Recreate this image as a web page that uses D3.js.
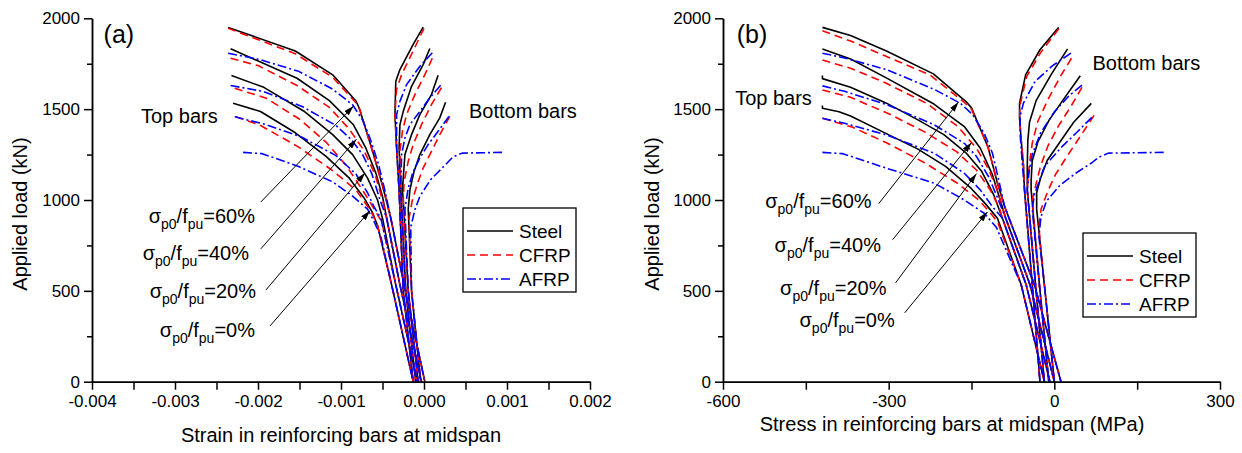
<!DOCTYPE html>
<html><head><meta charset="utf-8">
<script src="https://cdn.jsdelivr.net/npm/d3@7"></script>
<style>
html,body{margin:0;padding:0;background:#fff;}
text{font-family:"Liberation Sans",Arial,sans-serif;fill:#000;}
</style></head>
<body>
<svg id="chart" width="1242" height="453"></svg>
<script>
// ---------------- data ----------------
const levels = ["0%", "20%", "40%", "60%"];
const materials = ["Steel", "CFRP", "AFRP"];
const yTicks = [0, 500, 1000, 1500, 2000];
const yMinor = [250, 750, 1250, 1750];
const xTicksA = [-0.004, -0.003, -0.002, -0.001, 0, 0.001, 0.002];
const xTickLabelsA = ["-0.004", "-0.003", "-0.002", "-0.001", "0.000", "0.001", "0.002"];
const xMinorA = [-0.0035, -0.0025, -0.0015, -0.0005, 0.0005, 0.0015];
const xTicksB = [-600, -300, 0, 300];
const xTickLabelsB = ["-600", "-300", "0", "300"];
const xMinorB = [-450, -150, 150];

// Panel (a): [strain, load kN]; each array lists 0%, 20%, 40%, 60%
const aTopSteel = [
 [[-0.00230,1533],[-0.00197,1487],[-0.00155,1370],[-0.00118,1240],[-0.00090,1120],[-0.00072,1010],[-0.00062,930],[-0.00056,860],[-0.00039,533],[-0.00013,0]],
 [[-0.00232,1685],[-0.00193,1620],[-0.00145,1490],[-0.00110,1360],[-0.00086,1250],[-0.00068,1120],[-0.00056,1000],[-0.00050,900],[-0.00034,533],[-0.00008,0]],
 [[-0.00233,1832],[-0.00153,1670],[-0.00114,1547],[-0.00085,1414],[-0.00070,1285],[-0.00058,1148],[-0.00050,1020],[-0.00045,900],[-0.00029,533],[-0.00003,0]],
 [[-0.00236,1950],[-0.00155,1820],[-0.00110,1689],[-0.00082,1545],[-0.00078,1505],[-0.00062,1270],[-0.00050,1080],[-0.00040,900],[-0.00024,533],[0.00001,0]]
];
const aTopCFRP = [
 [[-0.00227,1458],[-0.00198,1413],[-0.00152,1294],[-0.00111,1165],[-0.00082,1055],[-0.00064,940],[-0.00056,860],[-0.00039,533],[-0.00013,0]],
 [[-0.00228,1615],[-0.00190,1560],[-0.00149,1442],[-0.00117,1314],[-0.00093,1185],[-0.00073,1047],[-0.00060,950],[-0.00051,880],[-0.00034,533],[-0.00008,0]],
 [[-0.00233,1780],[-0.00200,1740],[-0.00153,1630],[-0.00114,1510],[-0.00090,1390],[-0.00072,1270],[-0.00059,1140],[-0.00050,1000],[-0.00045,900],[-0.00029,533],[-0.00003,0]],
 [[-0.00236,1945],[-0.00155,1805],[-0.00110,1675],[-0.00082,1535],[-0.00077,1495],[-0.00062,1265],[-0.00050,1080],[-0.00040,900],[-0.00024,533],[0.00001,0]]
];
const aTopAFRP = [
 [[-0.00218,1262],[-0.00195,1255],[-0.00151,1184],[-0.00110,1100],[-0.00087,1025],[-0.00068,950],[-0.00060,880],[-0.00052,800],[-0.00039,533],[-0.00013,0]],
 [[-0.00228,1458],[-0.00191,1416],[-0.00147,1345],[-0.00106,1244],[-0.00082,1143],[-0.00068,1040],[-0.00060,960],[-0.00052,900],[-0.00034,533],[-0.00008,0]],
 [[-0.00233,1630],[-0.00194,1598],[-0.00147,1515],[-0.00106,1410],[-0.00087,1330],[-0.00074,1250],[-0.00063,1147],[-0.00053,1000],[-0.00045,900],[-0.00029,533],[-0.00003,0]],
 [[-0.00236,1808],[-0.00198,1773],[-0.00151,1708],[-0.00110,1610],[-0.00086,1524],[-0.00074,1440],[-0.00065,1340],[-0.00055,1200],[-0.00047,1050],[-0.00040,900],[-0.00024,533],[0.00001,0]]
];
const aBotSteel = [
 [[0.00026,1538],[0.00019,1452],[0.00007,1360],[-0.00005,1250],[-0.00012,1157],[-0.00017,1056],[-0.00019,950],[-0.00015,500],[-0.00004,0]],
 [[0.00017,1686],[0.00009,1580],[-0.00005,1470],[-0.00015,1360],[-0.00023,1250],[-0.00026,1056],[-0.00025,1000],[-0.00019,500],[-0.00007,0]],
 [[0.00007,1834],[-0.00001,1745],[-0.00015,1626],[-0.00025,1488],[-0.00029,1415],[-0.00030,1286],[-0.00028,1056],[-0.00022,500],[-0.00010,0]],
 [[-0.00001,1951],[-0.00013,1856],[-0.00029,1718],[-0.00034,1653],[-0.00035,1470],[-0.00033,1286],[-0.00030,1056],[-0.00025,500],[-0.00013,0]]
];
const aBotCFRP = [
 [[0.00031,1460],[0.00019,1360],[0.00009,1268],[-0.00001,1176],[-0.00007,1102],[-0.00014,1000],[-0.00018,900],[-0.00015,500],[-0.00004,0]],
 [[0.00021,1618],[0.00009,1525],[-0.00003,1415],[-0.00013,1305],[-0.00019,1213],[-0.00024,1100],[-0.00025,1000],[-0.00019,500],[-0.00007,0]],
 [[0.00010,1780],[0.00001,1690],[-0.00011,1580],[-0.00021,1470],[-0.00026,1378],[-0.00029,1270],[-0.00028,1056],[-0.00022,500],[-0.00010,0]],
 [[0.00000,1945],[-0.00011,1840],[-0.00027,1690],[-0.00033,1610],[-0.00035,1470],[-0.00033,1286],[-0.00030,1056],[-0.00025,500],[-0.00013,0]]
];
const aBotAFRP = [
 [[0.00094,1262],[0.00046,1258],[0.00035,1238],[0.00025,1190],[0.00008,1112],[-0.00005,1020],[-0.00011,946],[-0.00016,850],[-0.00015,500],[-0.00004,0]],
 [[0.00030,1460],[0.00017,1378],[0.00005,1305],[-0.00005,1231],[-0.00013,1157],[-0.00019,1066],[-0.00023,950],[-0.00019,500],[-0.00007,0]],
 [[0.00020,1631],[0.00007,1562],[-0.00005,1488],[-0.00017,1415],[-0.00023,1341],[-0.00027,1250],[-0.00028,1056],[-0.00022,500],[-0.00010,0]],
 [[0.00010,1810],[-0.00005,1736],[-0.00021,1635],[-0.00029,1543],[-0.00033,1470],[-0.00033,1290],[-0.00030,1050],[-0.00025,500],[-0.00013,0]]
];

// Panel (b): [stress MPa, load kN]; each array lists 0%, 20%, 40%, 60%
const bTopSteel = [
 [[-420,1520],[-420,1505],[-390,1486],[-369,1462],[-306,1368],[-247,1280],[-197,1185],[-151,1065],[-125,980],[-110,925],[-103,900],[-60,533],[-18,0]],
 [[-420,1685],[-420,1668],[-369,1620],[-304,1533],[-247,1441],[-200,1360],[-160,1260],[-132,1160],[-110,1030],[-94,900],[-51,533],[-8,0]],
 [[-420,1831],[-369,1776],[-306,1675],[-218,1528],[-163,1404],[-134,1285],[-112,1138],[-98,1000],[-88,900],[-44,533],[0,0]],
 [[-420,1950],[-369,1905],[-304,1820],[-219,1694],[-160,1542],[-150,1507],[-120,1290],[-103,1093],[-90,964],[-82,900],[-36,533],[12,0]]
];
const bTopCFRP = [
 [[-420,1450],[-365,1400],[-304,1315],[-235,1205],[-177,1095],[-137,1000],[-116,930],[-103,880],[-60,533],[-18,0]],
 [[-420,1605],[-369,1565],[-300,1475],[-235,1375],[-177,1266],[-141,1165],[-116,1055],[-100,960],[-94,900],[-51,533],[-8,0]],
 [[-420,1770],[-369,1725],[-306,1645],[-230,1530],[-175,1405],[-141,1285],[-120,1175],[-104,1060],[-88,900],[-44,533],[0,0]],
 [[-420,1932],[-369,1875],[-308,1795],[-225,1688],[-164,1540],[-150,1500],[-120,1290],[-103,1093],[-90,964],[-82,900],[-36,533],[12,0]]
];
const bTopAFRP = [
 [[-420,1262],[-383,1255],[-304,1175],[-217,1092],[-163,1000],[-127,927],[-105,850],[-60,533],[-18,0]],
 [[-420,1450],[-380,1422],[-304,1358],[-217,1257],[-163,1147],[-134,1055],[-112,963],[-94,900],[-51,533],[-8,0]],
 [[-420,1628],[-380,1598],[-304,1525],[-217,1413],[-163,1312],[-141,1240],[-119,1128],[-104,1020],[-88,900],[-44,533],[0,0]],
 [[-420,1808],[-380,1782],[-304,1718],[-217,1608],[-170,1532],[-148,1470],[-127,1367],[-112,1257],[-100,1100],[-90,964],[-82,900],[-36,533],[12,0]]
];
const bBotSteel = [
 [[67,1532],[35,1428],[8,1310],[-13,1217],[-25,1120],[-32,1040],[-32,950],[-18,533],[0,0]],
 [[47,1684],[15,1547],[-10,1437],[-30,1318],[-40,1216],[-42,1110],[-42,1056],[-27,533],[-10,0]],
 [[24,1832],[-5,1694],[-33,1547],[-45,1428],[-48,1327],[-49,1183],[-49,1056],[-34,533],[-18,0]],
 [[8,1950],[-26,1827],[-52,1689],[-63,1533],[-63,1450],[-60,1330],[-56,1194],[-54,1056],[-40,533],[-26,0]]
];
const bBotCFRP = [
 [[72,1466],[50,1364],[25,1250],[2,1140],[-12,1047],[-24,950],[-28,850],[-18,533],[0,0]],
 [[50,1620],[30,1515],[7,1405],[-12,1295],[-25,1185],[-33,1090],[-40,1000],[-27,533],[-10,0]],
 [[31,1780],[12,1685],[-10,1562],[-30,1432],[-40,1313],[-45,1200],[-48,1100],[-49,1056],[-34,533],[-18,0]],
 [[8,1942],[-24,1815],[-50,1680],[-62,1525],[-63,1450],[-60,1330],[-56,1194],[-54,1056],[-40,533],[-26,0]]
];
const bBotAFRP = [
 [[198,1262],[98,1258],[80,1235],[68,1205],[40,1150],[10,1080],[-14,995],[-24,910],[-28,800],[-18,533],[0,0]],
 [[68,1455],[40,1370],[14,1294],[-5,1230],[-18,1183],[-28,1100],[-36,1030],[-40,950],[-27,533],[-10,0]],
 [[50,1632],[27,1575],[0,1485],[-25,1368],[-40,1250],[-46,1150],[-49,1056],[-34,533],[-18,0]],
 [[30,1808],[-3,1740],[-35,1652],[-56,1533],[-62,1460],[-62,1367],[-58,1200],[-54,1056],[-40,533],[-26,0]]
];

// annotation anchors in data units: arrows [tailX, tailY, tipX, tipY], labels [rightX, baselineY]
const aArrows = [[-0.001855,307,-0.000651,941],[-0.001904,505,-0.000711,1149],[-0.001966,731,-0.000813,1335],[-0.001966,989,-0.000849,1517]];
const aLabels = [[-0.002036,246],[-0.002024,461],[-0.002108,671],[-0.002036,875]];
const bArrows = [[-271,379,-121,935],[-287.5,544,-141,1145],[-293,781,-150,1316],[-318,980,-173.5,1539]];
const bLabels = [[-289,301],[-304,477],[-314,714],[-331,956]];

// ---------------- drawing ----------------
const svg = d3.select("#chart");
const styles = {
  Steel: {color: "#000000", dash: null},
  CFRP:  {color: "#ff0000", dash: "8,5"},
  AFRP:  {color: "#0000ff", dash: "9,3,2,3"}
};
const defs = svg.append("defs");
defs.append("marker").attr("id", "ah").attr("viewBox", "0 0 10 6")
  .attr("refX", 10).attr("refY", 3).attr("markerWidth", 10).attr("markerHeight", 6)
  .attr("markerUnits", "userSpaceOnUse").attr("orient", "auto")
  .append("path").attr("d", "M0,0 L10,3 L0,6 Z").attr("fill", "#000");

function panel(cfg) {
  const x = d3.scaleLinear().domain(cfg.xDomain).range([cfg.x0, cfg.x1]);
  const y = d3.scaleLinear().domain([0, 2000]).range([381.7, 18.3]);
  const g = svg.append("g");
  const line = d3.line().x(d => x(d[0])).y(d => y(d[1]));

  const series = {Steel: [cfg.topSteel, cfg.botSteel], CFRP: [cfg.topCFRP, cfg.botCFRP], AFRP: [cfg.topAFRP, cfg.botAFRP]};
  materials.forEach(m => {
    series[m].forEach(group => {
      group.forEach(pts => {
        g.append("path").attr("d", line(pts)).attr("fill", "none")
          .attr("stroke", styles[m].color).attr("stroke-width", 1.6)
          .attr("stroke-dasharray", styles[m].dash).attr("stroke-linejoin", "round");
      });
    });
  });

  // axes
  const xAxis = d3.axisBottom(x).tickValues(cfg.xTicks).tickFormat((d, i) => cfg.xLabels[i])
    .tickSize(8).tickSizeOuter(0).tickPadding(5);
  const xMin = d3.axisBottom(x).tickValues(cfg.xMinor).tickFormat("").tickSize(8).tickSizeOuter(0);
  const yAxis = d3.axisLeft(y).tickValues(yTicks).tickFormat(d3.format("d"))
    .tickSize(8).tickSizeOuter(0).tickPadding(4);
  const yMin = d3.axisLeft(y).tickValues(yMinor).tickFormat("").tickSize(5).tickSizeOuter(0);
  [xAxis, xMin].forEach(ax => {
    const a = g.append("g").attr("transform", `translate(0,${y(0)})`).call(ax);
    a.selectAll("path,line").attr("stroke", "#000").attr("stroke-width", 1.5);
    a.selectAll("text").attr("font-size", 17).attr("font-family", '"Liberation Sans",Arial,sans-serif');
  });
  [yAxis, yMin].forEach(ax => {
    const a = g.append("g").attr("transform", `translate(${cfg.x0},0)`).call(ax);
    a.selectAll("path,line").attr("stroke", "#000").attr("stroke-width", 1.5);
    a.selectAll("text").attr("font-size", 17).attr("font-family", '"Liberation Sans",Arial,sans-serif');
  });

  // axis titles
  g.append("text").attr("x", cfg.xTitleX).attr("y", cfg.xTitleY).attr("text-anchor", "middle")
    .attr("font-size", 20).text(cfg.xTitle);
  g.append("text").attr("transform", `translate(${cfg.yTitleX},214) rotate(-90)`)
    .attr("text-anchor", "middle").attr("font-size", 20).text("Applied load (kN)");

  // panel tag and region labels
  g.append("text").attr("x", x(cfg.tag[1])).attr("y", y(cfg.tag[2])).attr("font-size", 25).text(cfg.tag[0]);
  g.append("text").attr("x", x(cfg.topLbl[0])).attr("y", y(cfg.topLbl[1])).attr("font-size", 20).text("Top bars");
  g.append("text").attr("x", x(cfg.botLbl[0])).attr("y", y(cfg.botLbl[1])).attr("font-size", 20).text("Bottom bars");

  // arrows and prestress labels
  cfg.arrows.forEach(a => {
    g.append("line").attr("x1", x(a[0])).attr("y1", y(a[1])).attr("x2", x(a[2])).attr("y2", y(a[3]))
      .attr("stroke", "#000").attr("stroke-width", 1).attr("marker-end", "url(#ah)");
  });
  cfg.labels.forEach((p, i) => {
    const t = g.append("text").attr("x", x(p[0])).attr("y", y(p[1])).attr("text-anchor", "end").attr("font-size", 20);
    t.append("tspan").text("σ");
    t.append("tspan").attr("font-size", 14).attr("dy", 6).text("p0");
    t.append("tspan").attr("dy", -6).text("/f");
    t.append("tspan").attr("font-size", 14).attr("dy", 6).text("pu");
    t.append("tspan").attr("dy", -6).text("=" + levels[i]);
  });

  // legend
  const lg = g.append("g");
  lg.append("rect").attr("x", cfg.leg[0]).attr("y", cfg.leg[1]).attr("width", 113).attr("height", 84)
    .attr("fill", "#fff").attr("stroke", "#000").attr("stroke-width", 1.3);
  materials.forEach((m, i) => {
    const yy = cfg.leg[1] + 23 + i * 24;
    lg.append("line").attr("x1", cfg.leg[0] + 4).attr("x2", cfg.leg[0] + 50).attr("y1", yy).attr("y2", yy)
      .attr("stroke", styles[m].color).attr("stroke-width", 1.6).attr("stroke-dasharray", styles[m].dash);
    lg.append("text").attr("x", cfg.leg[0] + 56).attr("y", yy).attr("dy", "0.36em").attr("font-size", 19).text(m);
  });
}

panel({
  x0: 92, x1: 590, xDomain: [-0.004, 0.002], xTicks: xTicksA, xLabels: xTickLabelsA, xMinor: xMinorA,
  topSteel: aTopSteel, topCFRP: aTopCFRP, topAFRP: aTopAFRP, botSteel: aBotSteel, botCFRP: aBotCFRP, botAFRP: aBotAFRP,
  xTitle: "Strain in reinforcing bars at midspan", xTitleX: 341, xTitleY: 442, yTitleX: 27,
  tag: ["(a)", -0.00386, 1866], topLbl: [-0.00341, 1424], botLbl: [0.000542, 1453],
  arrows: aArrows, labels: aLabels, leg: [463, 208]
});
panel({
  x0: 723, x1: 1220, xDomain: [-600, 300], xTicks: xTicksB, xLabels: xTickLabelsB, xMinor: xMinorB,
  topSteel: bTopSteel, topCFRP: bTopCFRP, topAFRP: bTopAFRP, botSteel: bBotSteel, botCFRP: bBotCFRP, botAFRP: bBotAFRP,
  xTitle: "Stress in reinforcing bars at midspan (MPa)", xTitleX: 952, xTitleY: 431, yTitleX: 659,
  tag: ["(b)", -575, 1866], topLbl: [-578, 1525], botLbl: [69, 1713],
  arrows: bArrows, labels: bLabels, leg: [1083, 233]
});
</script>
</body></html>
